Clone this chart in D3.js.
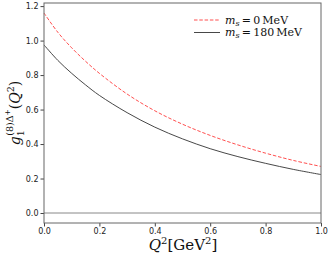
<!DOCTYPE html>
<html>
<head>
<meta charset="utf-8">
<script src="https://d3js.org/d3.v7.min.js"></script>
<style>
  body { margin: 0; background: white; }
  .tick text { font-family: "DejaVu Sans", sans-serif; font-size: 8px; fill: #222; }
  .math { font-family: "DejaVu Serif", "Liberation Serif", serif; fill: #111; }
</style>
</head>
<body>
<script>
// values
var q2 = [0, 0.05, 0.1, 0.15, 0.2, 0.3, 0.4, 0.5, 0.6, 0.7, 0.8, 0.9, 1.0];
var gMs0 = [1.16, 1.048, 0.958, 0.88, 0.81, 0.69, 0.593, 0.515, 0.45, 0.395, 0.347, 0.305, 0.27];
var gMs180 = [0.975, 0.885, 0.81, 0.743, 0.682, 0.582, 0.498, 0.43, 0.373, 0.327, 0.288, 0.253, 0.223];
var xTicks = [0, 0.2, 0.4, 0.6, 0.8, 1.0];
var yTicks = [0, 0.2, 0.4, 0.6, 0.8, 1.0, 1.2];

var width = 330, height = 257;
var plotL = 44, plotR = 321, plotT = 3, plotB = 223;

var svg = d3.select("body").append("svg")
  .attr("width", width)
  .attr("height", height);

var x = d3.scaleLinear().domain([0, 1]).range([plotL, plotR]);
var y = d3.scaleLinear().domain([-0.058, 1.218]).range([plotB, plotT]);

// axes
svg.append("g")
  .attr("transform", "translate(0," + plotB + ")")
  .call(d3.axisBottom(x).tickValues(xTicks).tickSize(3.5).tickPadding(2).tickFormat(d3.format(".1f")))
  .call(function(g) { g.select(".domain").remove(); g.selectAll("line").attr("stroke", "#444"); });

svg.append("g")
  .attr("transform", "translate(" + plotL + ",0)")
  .call(d3.axisLeft(y).tickValues(yTicks).tickSize(3.5).tickPadding(2).tickFormat(d3.format(".1f")))
  .call(function(g) { g.select(".domain").remove(); g.selectAll("line").attr("stroke", "#444"); });

// zero line
svg.append("line")
  .attr("x1", plotL).attr("x2", plotR)
  .attr("y1", y(0)).attr("y2", y(0))
  .attr("stroke", "#888").attr("stroke-width", 1);

var line = d3.line().curve(d3.curveCatmullRom);

svg.append("path")
  .attr("d", line(q2.map(function(d, i) { return [x(d), y(gMs0[i])]; })))
  .attr("fill", "none").attr("stroke", "#ff3b3b")
  .attr("stroke-width", 0.9).attr("stroke-dasharray", "3.5,1.8");

svg.append("path")
  .attr("d", line(q2.map(function(d, i) { return [x(d), y(gMs180[i])]; })))
  .attr("fill", "none").attr("stroke", "#333")
  .attr("stroke-width", 0.9);

// frame
svg.append("rect")
  .attr("x", plotL).attr("y", plotT)
  .attr("width", plotR - plotL).attr("height", plotB - plotT)
  .attr("fill", "none").attr("stroke", "#666").attr("stroke-width", 1);

// legend
var legend = [
  { label: "0", color: "#ff3b3b", dash: "3.5,1.8" },
  { label: "180", color: "#333", dash: null }
];
legend.forEach(function(d, i) {
  var ly = 20 + i * 12.5;
  svg.append("line")
    .attr("x1", 194).attr("x2", 220).attr("y1", ly).attr("y2", ly)
    .attr("stroke", d.color).attr("stroke-width", 0.9)
    .attr("stroke-dasharray", d.dash);
  var t = svg.append("text").attr("class", "math")
    .attr("x", 225).attr("y", ly + 3.5).attr("font-size", 11);
  t.append("tspan").attr("font-style", "italic").text("m");
  t.append("tspan").attr("font-style", "italic").attr("font-size", 8).attr("dy", 2).text("s");
  t.append("tspan").attr("dy", -2).text("\u2009=\u2009" + d.label + "\u2009MeV");
});

// x label
var xl = svg.append("text").attr("class", "math")
  .attr("x", 183).attr("y", 250).attr("text-anchor", "middle").attr("font-size", 15);
xl.append("tspan").attr("font-style", "italic").text("Q");
xl.append("tspan").attr("font-size", 10).attr("dy", -6).text("2");
xl.append("tspan").attr("dy", 6).text("[GeV");
xl.append("tspan").attr("font-size", 10).attr("dy", -6).text("2");
xl.append("tspan").attr("dy", 6).text("]");

// y label
var yl = svg.append("text").attr("class", "math")
  .attr("transform", "translate(20,113) rotate(-90)")
  .attr("text-anchor", "middle").attr("font-size", 14);
yl.append("tspan").attr("font-style", "italic").text("g");
yl.append("tspan").attr("font-size", 9.5).attr("dy", 3.5).text("1");
yl.append("tspan").attr("font-size", 9.5).attr("dx", -5.5).attr("dy", -11).text("(8)\u0394");
yl.append("tspan").attr("font-size", 7.5).attr("dy", -3).text("+");
yl.append("tspan").attr("dy", 10.5).text("(");
yl.append("tspan").attr("font-style", "italic").text("Q");
yl.append("tspan").attr("font-size", 9.5).attr("dy", -6).text("2");
yl.append("tspan").attr("dy", 6).text(")");
</script>
</body>
</html>
